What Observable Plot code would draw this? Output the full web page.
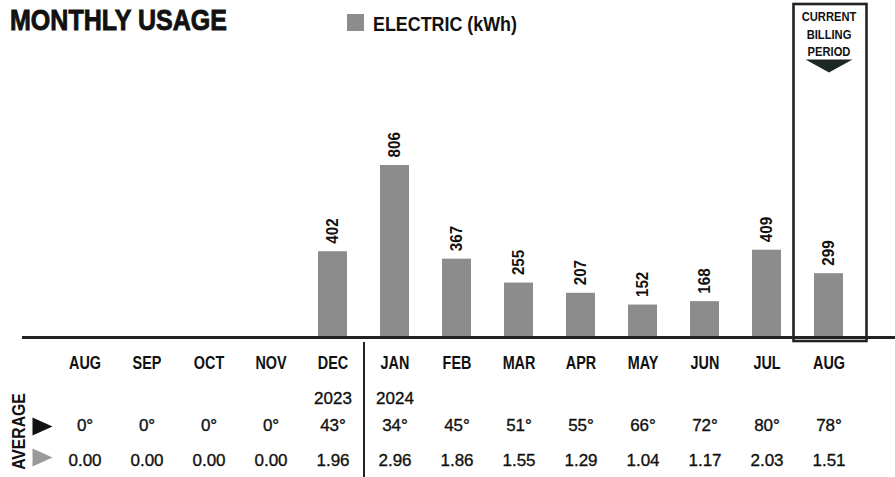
<!DOCTYPE html>
<html><head><meta charset="utf-8">
<script src="https://cdn.jsdelivr.net/npm/d3@7"></script>
<script src="https://cdn.jsdelivr.net/npm/@observablehq/plot@0.6"></script>
<style>
body{margin:0;background:#fff;}
#wrap{position:relative;width:895px;height:477px;overflow:hidden;background:#fff;}
.nar{font-family:"Liberation Sans",Arial,sans-serif;font-weight:bold;color:#111;white-space:nowrap;line-height:1;position:absolute;transform-origin:0 50%;}
#title{left:10px;top:4.6px;font-size:30px;-webkit-text-stroke:0.9px #111;}
#legtext{left:373px;top:14.5px;font-size:19.5px;}
#sw{position:absolute;left:347px;top:14px;width:17px;height:17px;background:#8c8c8c;}
</style></head><body>
<div id="wrap"><div id="chart"></div>
<div id="title" class="nar">MONTHLY USAGE</div>
<div id="sw"></div><div id="legtext" class="nar">ELECTRIC (kWh)</div>
</div>
<script>
const months = ["AUG","SEP","OCT","NOV","DEC","JAN","FEB","MAR","APR","MAY","JUN","JUL","AUG"];
const years = ["","","","","2023","2024","","","","","","",""];
const kwh = [0,0,0,0,402,806,367,255,207,152,168,409,299];
const avgTemp = [0,0,0,0,43,34,45,51,55,66,72,80,78];
const avgOther = [0,0,0,0,1.96,2.96,1.86,1.55,1.29,1.04,1.17,2.03,1.51];
const boxLabel = ["CURRENT","BILLING","PERIOD"];
const currentIndex = 12;
const yearBreakIndex = 5;
const rowLabel = "AVERAGE";

const data = months.map((m, i) => ({i, m, year: years[i], kwh: kwh[i], temp: avgTemp[i] + "°", other: avgOther[i].toFixed(2)}));
const reg = '"Liberation Sans",Arial,sans-serif';
const flatDown = {draw(ctx, size){ const r = Math.sqrt(size/Math.PI); ctx.moveTo(-r,-0.28*r); ctx.lineTo(r,-0.28*r); ctx.lineTo(0,0.28*r); ctx.closePath(); }};
const rightTri = {draw(ctx, size){ const r = Math.sqrt(size/Math.PI); ctx.moveTo(-r,-0.9*r); ctx.lineTo(r,0); ctx.lineTo(-r,0.9*r); ctx.closePath(); }};

// text marks, in drawing order: 0 values, 1 box label, 2 months, 3 years, 4 temps, 5 other, 6 row label
const plot = Plot.plot({
  width: 895, height: 477,
  marginLeft: 35, marginRight: 18, marginTop: 0, marginBottom: 140,
  x: {type: "band", domain: d3.range(months.length), padding: 0.534, axis: null},
  y: {domain: [0, 1579], axis: null},
  style: {fontFamily: reg, background: "transparent", overflow: "visible", color: "#111"},
  marks: [
    Plot.barY(data, {x: "i", y: "kwh", fill: "#8c8c8c"}),
    Plot.text(data.filter(d => d.kwh > 0), {x: "i", y: "kwh", text: d => String(d.kwh), rotate: -90, textAnchor: "start", lineAnchor: "middle", dy: -8, fontWeight: "bold", fontSize: 16, fill: "#111"}),
    Plot.cell([currentIndex], {x: d => d, fill: "none", stroke: "#222", strokeWidth: 2.6, insetLeft: -20.5, insetRight: -23.5, insetTop: 4, insetBottom: -4}),
    Plot.text([currentIndex], {x: d => d, frameAnchor: "top", text: () => boxLabel.join("\n"), textAnchor: "middle", lineAnchor: "top", dy: 8, lineHeight: 1.35, fontSize: 13, fontWeight: "bold", fill: "#111"}),
    Plot.dot([currentIndex], {x: d => d, frameAnchor: "top", dy: 65.5, symbol: flatDown, r: 23.5, fill: "#1e2822", stroke: "none"}),
    Plot.ruleY([0], {stroke: "#222", strokeWidth: 3, insetLeft: -13, insetRight: -18}),
    Plot.ruleX([yearBreakIndex], {x: d => d, dx: -31, insetTop: 342, insetBottom: -140, stroke: "#222", strokeWidth: 2}),
    Plot.text(data, {x: "i", text: "m", frameAnchor: "bottom", textAnchor: "middle", lineAnchor: "middle", dy: 25.5, fontSize: 18, fontWeight: "bold", fill: "#111"}),
    Plot.text(data, {x: "i", text: "year", frameAnchor: "bottom", textAnchor: "middle", lineAnchor: "middle", dy: 61.5, fontSize: 17, fill: "#111", stroke: "#111", strokeWidth: 0.35}),
    Plot.text(data, {x: "i", text: "temp", frameAnchor: "bottom", textAnchor: "middle", lineAnchor: "middle", dy: 88.5, fontSize: 17, fill: "#111", stroke: "#111", strokeWidth: 0.35}),
    Plot.text(data, {x: "i", text: "other", frameAnchor: "bottom", textAnchor: "middle", lineAnchor: "middle", dy: 123.5, fontSize: 17, fill: "#111", stroke: "#111", strokeWidth: 0.35}),
    Plot.text([rowLabel], {frameAnchor: "bottom-left", text: d => d, rotate: -90, textAnchor: "middle", lineAnchor: "middle", dx: -16.5, dy: 94, fontSize: 19, fontWeight: "bold", fill: "#111"}),
    Plot.dot([0], {frameAnchor: "bottom-left", dx: 7, dy: 89, symbol: rightTri, r: 10, fill: "#111", stroke: "none"}),
    Plot.dot([0], {frameAnchor: "bottom-left", dx: 7, dy: 120, symbol: rightTri, r: 10, fill: "#999", stroke: "none"})
  ]
});
document.getElementById("chart").appendChild(plot);

const textGroups = plot.querySelectorAll('g[aria-label="text"]');
function squeeze(k, sx) {
  const g = textGroups[k];
  if (!g) return;
  g.querySelectorAll("text").forEach(t => {
    const tr = t.getAttribute("transform");
    if (tr) {
      t.setAttribute("transform", tr + ` scale(${sx},1)`);
    } else {
      const xa = t.getAttribute("x");
      const x = xa != null && !/em$/.test(xa) ? parseFloat(xa) || 0 : 0;
      if (xa != null && !/em$/.test(xa)) t.setAttribute("x", 0);
      t.setAttribute("transform", `translate(${x},0) scale(${sx},1)`);
    }
  });
}
squeeze(0, 0.95);
squeeze(1, 0.86);
squeeze(2, 0.8);
squeeze(6, 0.83);

function fit(id, target){
  const el = document.getElementById(id);
  const w = el.getBoundingClientRect().width;
  if (w > 0) el.style.transform = `scaleX(${target / w})`;
}
fit("title", 217);
fit("legtext", 144);
</script>
</body></html>
